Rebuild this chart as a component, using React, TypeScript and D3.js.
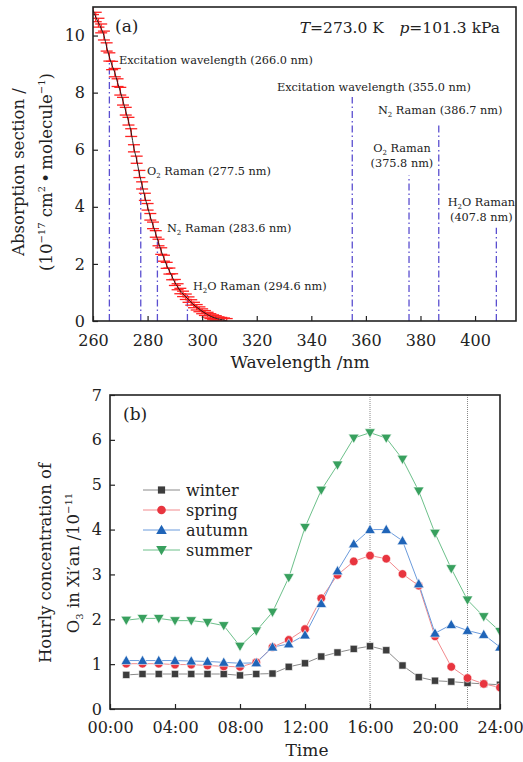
import React, { useRef, useEffect } from "react";
import * as d3 from "d3";

// ---- panel (a): O3 absorption cross section ----
const wavelength = [
  260, 261, 262, 263, 264, 265, 266, 267, 268, 269, 270, 271, 272, 273, 274,
  275, 276, 277, 278, 279, 280, 281, 282, 283, 284, 285, 286, 287, 288, 289,
  290, 291, 292, 293, 294, 295, 296, 297, 298, 299, 300, 301, 302, 303, 304,
  305, 306, 307, 308, 309,
];
const sigma = [
  10.9, 10.65, 10.45, 10.25, 10.0, 9.6, 9.25, 8.95, 8.7, 8.35, 8.05, 7.7, 7.35,
  7.0, 6.6, 6.05, 5.65, 5.15, 4.75, 4.35, 4.0, 3.65, 3.35, 3.05, 2.75, 2.45,
  2.2, 1.95, 1.75, 1.55, 1.35, 1.2, 1.05, 0.95, 0.85, 0.75, 0.65, 0.56, 0.48,
  0.41, 0.34, 0.28, 0.22, 0.17, 0.13, 0.1, 0.07, 0.05, 0.03, 0.01,
];
const sigmaErr = [
  0.13, 0.13, 0.12, 0.12, 0.12, 0.11, 0.11, 0.11, 0.11, 0.1, 0.1, 0.1, 0.1, 0.1,
  0.1, 0.09, 0.09, 0.09, 0.09, 0.09, 0.08, 0.08, 0.08, 0.08, 0.08, 0.08, 0.07,
  0.07, 0.07, 0.07, 0.07, 0.07, 0.06, 0.06, 0.06, 0.06, 0.06, 0.06, 0.06, 0.05,
  0.05, 0.05, 0.05, 0.05, 0.05, 0.05, 0.04, 0.04, 0.04, 0.04,
];
const markWavelength = [266.0, 277.5, 283.6, 294.6, 355.0, 375.8, 386.7, 407.8];
const markTop = [9.08, 4.7, 2.78, 0.95, 7.85, 5.1, 6.95, 3.27];
const markLabel = [
  ["Excitation wavelength (266.0 nm)"],
  ["O_2 Raman (277.5 nm)"],
  ["N_2 Raman (283.6 nm)"],
  ["H_2O Raman (294.6 nm)"],
  ["Excitation wavelength (355.0 nm)"],
  ["O_2 Raman", "(375.8 nm)"],
  ["N_2 Raman (386.7 nm)"],
  ["H_2O Raman", "(407.8 nm)"],
];
const xTicksA = [260, 280, 300, 320, 340, 360, 380, 400];
const yTicksA = [0, 2, 4, 6, 8, 10];

// ---- panel (b): hourly O3 in Xi'an ----
const hours = [
  1, 2, 3, 4, 5, 6, 7, 8, 9, 10, 11, 12, 13, 14, 15, 16, 17, 18, 19, 20, 21,
  22, 23, 24,
];
const winter = [
  0.76, 0.78, 0.78, 0.78, 0.78, 0.78, 0.78, 0.75, 0.78, 0.79, 0.94, 1.02, 1.17,
  1.26, 1.34, 1.4, 1.31, 0.97, 0.71, 0.63, 0.61, 0.58, 0.56, 0.54,
];
const spring = [
  1.01, 1.01, 1.01, 0.99, 0.99, 0.97, 0.95, 0.94, 1.04, 1.38, 1.54, 1.78, 2.47,
  2.99, 3.29, 3.42, 3.35, 3.01, 2.75, 1.62, 0.94, 0.69, 0.56, 0.48,
];
const autumn = [
  1.08, 1.08, 1.08, 1.08, 1.07, 1.06, 1.04, 1.02, 1.03, 1.38, 1.45, 1.65, 2.35,
  3.08, 3.68, 4.0, 4.0, 3.75, 2.79, 1.69, 1.88, 1.75, 1.66, 1.38,
];
const summer = [
  1.98, 2.02, 2.02, 1.97, 1.97, 1.93, 1.86, 1.4, 1.74, 2.16, 2.93, 4.05, 4.88,
  5.44, 6.04, 6.16, 6.04, 5.57, 4.86, 3.92, 3.13, 2.43, 2.06, 1.73,
];
const seriesNames = ["winter", "spring", "autumn", "summer"];
const xTicksB = [0, 4, 8, 12, 16, 20, 24];
const xTickLabelsB = ["00:00", "04:00", "08:00", "12:00", "16:00", "20:00", "24:00"];
const yTicksB = [0, 1, 2, 3, 4, 5, 6, 7];
const guideHours = [16, 22];

const FONT = "'DejaVu Serif', serif";

// turns "O_2 Raman" into tspans with a subscript
function addRich(text, str, size) {
  const parts = str.split(/_(\d)/);
  parts.forEach((p, i) => {
    if (p === "") return;
    if (i % 2 === 1) {
      text.append("tspan").attr("font-size", size * 0.62).attr("dy", 3).text(p);
    } else {
      const t = text.append("tspan").text(p);
      if (i > 0) t.attr("dy", -3);
    }
  });
}

export default function App() {
  const svgRef = useRef(null);

  useEffect(() => {
    const svg = d3.select(svgRef.current);
    svg.selectAll("*").remove();

    // ================= panel (a) =================
    const xA = d3.scaleLinear().domain([260, 415]).range([93, 516]);
    const yA = d3.scaleLinear().domain([0, 11]).range([321, 7]);
    const gA = svg.append("g");

    gA.append("clipPath")
      .attr("id", "clipA")
      .append("rect")
      .attr("x", 93)
      .attr("y", 7)
      .attr("width", 423)
      .attr("height", 314);

    const pts = wavelength.map((w, i) => ({ w, s: sigma[i], e: sigmaErr[i] }));
    const marks = gA.append("g").attr("clip-path", "url(#clipA)");

    // dash-dot marker lines
    marks
      .selectAll(".mark")
      .data(markWavelength)
      .join("line")
      .attr("x1", (d) => xA(d))
      .attr("x2", (d) => xA(d))
      .attr("y1", yA(0))
      .attr("y2", (d, i) => yA(markTop[i]))
      .attr("stroke", "#5b4fd0")
      .attr("stroke-width", 1.3)
      .attr("stroke-dasharray", "7,3,1.5,3");

    // error bars
    const eb = marks
      .selectAll(".eb")
      .data(pts)
      .join("g")
      .attr("stroke", "#ff2222")
      .attr("stroke-width", 1.3);
    eb.append("line")
      .attr("x1", (d) => xA(d.w))
      .attr("x2", (d) => xA(d.w))
      .attr("y1", (d) => yA(d.s - d.e) + 1)
      .attr("y2", (d) => yA(d.s + d.e) - 1);
    eb.append("line")
      .attr("x1", (d) => xA(d.w) - 6)
      .attr("x2", (d) => xA(d.w) + 6)
      .attr("y1", (d) => yA(d.s - d.e) + 1)
      .attr("y2", (d) => yA(d.s - d.e) + 1);
    eb.append("line")
      .attr("x1", (d) => xA(d.w) - 6)
      .attr("x2", (d) => xA(d.w) + 6)
      .attr("y1", (d) => yA(d.s + d.e) - 1)
      .attr("y2", (d) => yA(d.s + d.e) - 1);

    marks
      .append("path")
      .datum(pts)
      .attr("fill", "none")
      .attr("stroke", "#111")
      .attr("stroke-width", 0.9)
      .attr("d", d3.line().x((d) => xA(d.w)).y((d) => yA(d.s)).curve(d3.curveMonotoneX));

    // axes
    const axA = gA
      .append("g")
      .attr("transform", "translate(0,321)")
      .call(d3.axisBottom(xA).tickValues(xTicksA).tickSizeInner(-5).tickSizeOuter(0).tickPadding(14));
    const ayA = gA
      .append("g")
      .attr("transform", "translate(93,0)")
      .call(d3.axisLeft(yA).tickValues(yTicksA).tickSizeInner(-5).tickSizeOuter(0).tickPadding(8));
    [axA, ayA].forEach((a) => {
      a.select(".domain").remove();
      a.selectAll("text").attr("font-family", FONT).attr("font-size", 16).attr("fill", "#222");
      a.selectAll("line").attr("stroke", "#222").attr("stroke-width", 1.2);
    });

    gA.append("rect")
      .attr("x", 93)
      .attr("y", 7)
      .attr("width", 423)
      .attr("height", 314)
      .attr("fill", "none")
      .attr("stroke", "#222")
      .attr("stroke-width", 1.6);

    // annotation labels (data coords of first baseline)
    const labelAt = [
      [269.5, 9.0, "start"],
      [279.8, 5.11, "start"],
      [287.1, 3.12, "start"],
      [296.6, 1.09, "start"],
      [327.4, 8.05, "start"],
      [373.2, 5.92, "middle"],
      [364.4, 7.25, "start"],
      [402.3, 4.03, "middle"],
    ];
    markLabel.forEach((lines, i) => {
      const [lx, ly, anchor] = labelAt[i];
      lines.forEach((ln, j) => {
        const t = gA
          .append("text")
          .attr("x", xA(lx))
          .attr("y", yA(ly) + j * 15)
          .attr("text-anchor", anchor)
          .attr("font-family", FONT)
          .attr("font-size", 11.3)
          .attr("fill", "#222");
        addRich(t, ln, 11.3);
      });
    });

    gA.append("text")
      .attr("x", 115)
      .attr("y", 32)
      .attr("font-family", FONT)
      .attr("font-size", 17)
      .attr("fill", "#222")
      .text("(a)");

    const cond = gA
      .append("text")
      .attr("x", 500)
      .attr("y", 33)
      .attr("text-anchor", "end")
      .attr("font-family", FONT)
      .attr("font-size", 15.5)
      .attr("fill", "#222");
    cond.append("tspan").attr("font-style", "italic").text("T");
    cond.append("tspan").text("=273.0 K\u2003");
    cond.append("tspan").attr("font-style", "italic").text("p");
    cond.append("tspan").text("=101.3 kPa");

    gA.append("text")
      .attr("x", 300)
      .attr("y", 368)
      .attr("text-anchor", "middle")
      .attr("font-family", FONT)
      .attr("font-size", 17)
      .attr("fill", "#222")
      .text("Wavelength /nm");

    gA.append("text")
      .attr("transform", "translate(24,172) rotate(-90)")
      .attr("text-anchor", "middle")
      .attr("font-family", FONT)
      .attr("font-size", 16.5)
      .attr("fill", "#222")
      .text("Absorption section /");
    const ytA2 = gA
      .append("text")
      .attr("transform", "translate(52,172) rotate(-90)")
      .attr("text-anchor", "middle")
      .attr("font-family", FONT)
      .attr("font-size", 16.5)
      .attr("fill", "#222");
    ytA2.append("tspan").text("(10");
    ytA2.append("tspan").attr("font-size", 10).attr("dy", -7).text("\u221217");
    ytA2.append("tspan").attr("dy", 7).text(" cm");
    ytA2.append("tspan").attr("font-size", 10).attr("dy", -7).text("2");
    ytA2.append("tspan").attr("dy", 7).text("\u2009\u2022\u2009molecule");
    ytA2.append("tspan").attr("font-size", 10).attr("dy", -7).text("\u22121");
    ytA2.append("tspan").attr("dy", 7).text(")");

    // ================= panel (b) =================
    const xB = d3.scaleLinear().domain([0, 24]).range([110, 500]);
    const yB = d3.scaleLinear().domain([0, 7]).range([709, 395]);
    const gB = svg.append("g");

    gB.append("clipPath")
      .attr("id", "clipB")
      .append("rect")
      .attr("x", 110)
      .attr("y", 395)
      .attr("width", 390)
      .attr("height", 314);

    gB.selectAll(".guide")
      .data(guideHours)
      .join("line")
      .attr("x1", (d) => xB(d))
      .attr("x2", (d) => xB(d))
      .attr("y1", 395)
      .attr("y2", 709)
      .attr("stroke", "#888")
      .attr("stroke-width", 1)
      .attr("stroke-dasharray", "1,1");

    const series = [winter, spring, autumn, summer];
    const lineColor = ["#8a8a8a", "#f28a8d", "#6b9bdc", "#6cc08a"];
    const markColor = ["#3d3d3d", "#e8353f", "#1f64b8", "#38a05e"];
    const symbols = ["square", "circle", "up", "down"];

    const symPath = (kind, r) => {
      if (kind === "square") return `M${-r},${-r}H${r}V${r}H${-r}Z`;
      if (kind === "circle") return d3.symbol(d3.symbolCircle, Math.PI * r * r)();
      if (kind === "up") return `M0,${-r * 1.15}L${r * 1.15},${r * 0.85}L${-r * 1.15},${r * 0.85}Z`;
      return `M0,${r * 1.15}L${r * 1.15},${-r * 0.85}L${-r * 1.15},${-r * 0.85}Z`;
    };
    const symR = [3.6, 4.3, 4.6, 4.6];

    const plotB = gB.append("g").attr("clip-path", "url(#clipB)");
    const lineB = d3.line().x((d, i) => xB(hours[i])).y((d) => yB(d));
    series.forEach((vals, k) => {
      plotB
        .append("path")
        .datum(vals)
        .attr("fill", "none")
        .attr("stroke", lineColor[k])
        .attr("stroke-width", 1)
        .attr("d", lineB);
    });
    series.forEach((vals, k) => {
      plotB
        .selectAll(".pt" + k)
        .data(vals)
        .join("path")
        .attr("transform", (d, i) => `translate(${xB(hours[i])},${yB(d)})`)
        .attr("d", symPath(symbols[k], symR[k]))
        .attr("fill", markColor[k])
        .attr("stroke", "#fff")
        .attr("stroke-width", 0.6);
    });

    const axB = gB
      .append("g")
      .attr("transform", "translate(0,709)")
      .call(
        d3
          .axisBottom(xB)
          .tickValues(xTicksB)
          .tickFormat((d, i) => xTickLabelsB[i])
          .tickSizeInner(-5)
          .tickSizeOuter(0)
          .tickPadding(13)
      );
    const ayB = gB
      .append("g")
      .attr("transform", "translate(110,0)")
      .call(
        d3
          .axisLeft(yB)
          .tickValues(yTicksB)
          .tickFormat(d3.format("d"))
          .tickSizeInner(-5)
          .tickSizeOuter(0)
          .tickPadding(8)
      );
    [axB, ayB].forEach((a) => {
      a.select(".domain").remove();
      a.selectAll("text").attr("font-family", FONT).attr("font-size", 16).attr("fill", "#222");
      a.selectAll("line").attr("stroke", "#222").attr("stroke-width", 1.2);
    });

    gB.append("rect")
      .attr("x", 110)
      .attr("y", 395)
      .attr("width", 390)
      .attr("height", 314)
      .attr("fill", "none")
      .attr("stroke", "#222")
      .attr("stroke-width", 1.6);

    gB.append("text")
      .attr("x", 123)
      .attr("y", 420)
      .attr("font-family", FONT)
      .attr("font-size", 17)
      .attr("fill", "#222")
      .text("(b)");

    // legend
    const leg = gB.append("g").attr("transform", "translate(143,490)");
    seriesNames.forEach((name, k) => {
      const row = leg.append("g").attr("transform", `translate(0,${k * 20})`);
      row.append("line").attr("x1", 0).attr("x2", 37).attr("stroke", lineColor[k]).attr("stroke-width", 1);
      row.append("path")
        .attr("transform", "translate(18.5,0)")
        .attr("d", symPath(symbols[k], symR[k]))
        .attr("fill", markColor[k]);
      row.append("text")
        .attr("x", 43)
        .attr("y", 5.5)
        .attr("font-family", FONT)
        .attr("font-size", 16)
        .attr("fill", "#222")
        .text(name);
    });

    gB.append("text")
      .attr("x", 307)
      .attr("y", 756)
      .attr("text-anchor", "middle")
      .attr("font-family", FONT)
      .attr("font-size", 17)
      .attr("fill", "#222")
      .text("Time");

    gB.append("text")
      .attr("transform", "translate(51,563) rotate(-90)")
      .attr("text-anchor", "middle")
      .attr("font-family", FONT)
      .attr("font-size", 16.5)
      .attr("fill", "#222")
      .text("Hourly concentration of");
    const ytB2 = gB
      .append("text")
      .attr("transform", "translate(79,563) rotate(-90)")
      .attr("text-anchor", "middle")
      .attr("font-family", FONT)
      .attr("font-size", 16.5)
      .attr("fill", "#222");
    ytB2.append("tspan").text("O");
    ytB2.append("tspan").attr("font-size", 10).attr("dy", 4).text("3");
    ytB2.append("tspan").attr("dy", -4).text(" in Xi\u2032an /10");
    ytB2.append("tspan").attr("font-size", 10).attr("dy", -7).text("\u221211");
  }, []);

  return (
    <svg
      ref={svgRef}
      width={523}
      height={762}
      style={{ position: "absolute", left: 0, top: 0, background: "#fff" }}
    />
  );
}
